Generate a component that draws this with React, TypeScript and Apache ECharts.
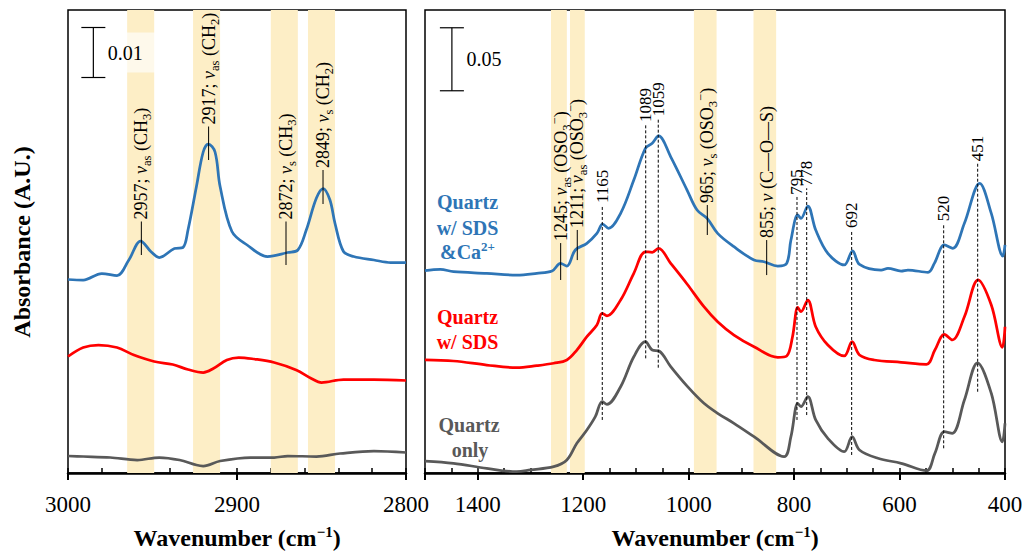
import { useEffect, useRef } from "react";
import * as echarts from "echarts";

const SERIF = '"Liberation Serif", "Times New Roman", serif';
const BLUE = "#2E75B6";
const RED = "#FF0000";
const GRAY = "#595959";
const BAND = "#FDEEC6";

// ---------- Left panel: 3000–2800 cm-1 (values in mA.U.) ----------
const leftBlueX = [3000, 2991, 2980, 2971, 2964, 2957, 2951, 2946, 2937, 2932, 2929, 2924, 2920, 2917, 2913, 2910, 2903, 2894, 2882, 2870, 2864, 2859, 2853, 2849, 2845, 2842, 2837, 2831, 2819, 2809, 2800];
const leftBlueY = [38.7, 38.6, 39.9, 39.5, 42.6, 46.4, 44.3, 43.1, 44.9, 45.1, 48.6, 57.3, 64.2, 65.8, 64.2, 57.3, 48.3, 45.6, 43.3, 44.1, 44.6, 48.6, 55.0, 56.9, 54.6, 49.9, 44.3, 43.3, 42.6, 42.1, 42.1];
const leftRedX = [3000, 2991, 2982, 2971, 2961, 2949, 2938, 2929, 2920, 2914, 2906, 2899, 2890, 2878, 2865, 2856, 2850, 2837, 2819, 2800];
const leftRedY = [23.3, 25.1, 25.6, 25.1, 23.6, 22.3, 21.7, 20.7, 20.1, 20.9, 22.6, 23.1, 22.8, 22.1, 20.6, 18.9, 18.1, 18.7, 18.7, 18.5];
const leftGrayX = [3000, 2991, 2975, 2959, 2946, 2934, 2924, 2920, 2910, 2892, 2878, 2870, 2853, 2839, 2819, 2800];
const leftGrayY = [3.4, 3.3, 3.1, 2.6, 3.1, 2.6, 1.6, 1.4, 2.4, 3.1, 3.1, 3.4, 3.3, 3.9, 4.4, 4.1];

const leftBandFrom = [2965, 2926, 2880, 2858];
const leftBandTo = [2949, 2910, 2864, 2842];

const leftMarkX = [2956.6, 2916.8, 2871, 2849.1];
const leftMarkLow = [43.6, 62.6, 41.6, 53.8];
const leftMarkHigh = [50.3, 69.3, 50.3, 60.6];
const leftMarkLabels = [
  "{n|2957; }{i|ν}{s|as}{n| (CH}{s|3}{n|)}",
  "{n|2917; }{i|ν}{s|as}{n| (CH}{s|2}{n|)}",
  "{n|2872; }{i|ν}{s|s}{n| (CH}{s|3}{n|)}",
  "{n|2849; }{i|ν}{s|s}{n| (CH}{s|2}{n|)}",
];

// ---------- Right panel: 1500–400 cm-1 (values in mA.U.) ----------
const rightBlueX = [1500, 1471, 1446, 1383, 1326, 1288, 1259, 1243, 1231, 1215, 1193, 1174, 1163, 1152, 1129, 1104, 1082, 1069, 1057, 1034, 1003, 984, 965, 945, 914, 876, 857, 831, 814, 806, 793, 787, 774, 759, 736, 705, 689, 676, 635, 622, 597, 584, 546, 534, 515, 499, 477, 448, 426, 404, 400];
const rightBlueY = [160.6, 161.7, 159.8, 158.5, 157.1, 158.5, 160.3, 166.4, 164.3, 177.0, 182.3, 190.2, 197.6, 194.2, 206.1, 232.5, 257.7, 261.7, 267.5, 251.0, 224.6, 208.7, 202.1, 190.2, 179.6, 169.0, 167.7, 164.3, 166.4, 184.9, 204.8, 202.1, 211.9, 192.9, 174.4, 165.1, 176.4, 165.6, 161.1, 162.5, 160.3, 161.1, 159.3, 166.4, 181.0, 178.3, 198.2, 229.9, 206.1, 172.2, 181.0];
const rightRedX = [1500, 1446, 1383, 1326, 1288, 1256, 1231, 1212, 1193, 1174, 1164, 1155, 1129, 1104, 1082, 1069, 1057, 1034, 1003, 971, 945, 914, 876, 831, 814, 803, 793, 787, 774, 759, 736, 705, 690, 676, 648, 597, 549, 533, 515, 500, 477, 451, 426, 405, 400];
const rightRedY = [89.7, 88.9, 85.7, 83.6, 85.2, 87.1, 89.7, 97.6, 108.2, 117.5, 126.7, 124.8, 137.3, 158.5, 175.6, 175.2, 178.3, 166.4, 150.0, 132.0, 120.1, 109.5, 100.2, 91.8, 92.9, 108.2, 131.5, 128.0, 137.3, 116.1, 101.6, 92.9, 104.2, 93.7, 89.7, 87.9, 86.3, 97.6, 110.1, 105.6, 124.0, 153.2, 133.3, 99.8, 116.1];
const rightGrayX = [1500, 1446, 1383, 1326, 1300, 1256, 1231, 1212, 1193, 1177, 1164, 1155, 1129, 1104, 1082, 1069, 1056, 1034, 1002, 971, 945, 914, 876, 819, 806, 793, 787, 774, 759, 736, 705, 690, 676, 641, 597, 549, 533, 515, 500, 477, 452, 426, 405, 400];
const rightGrayY = [9.5, 7.7, 3.7, 1.0, 2.4, 5.0, 10.3, 23.6, 34.1, 44.7, 56.6, 54.5, 68.5, 92.3, 104.2, 97.6, 96.8, 84.4, 68.5, 55.3, 47.4, 39.4, 28.8, 12.9, 28.8, 55.3, 52.6, 60.6, 42.1, 27.5, 16.9, 28.8, 18.3, 11.7, 7.7, 1.8, 15.6, 32.8, 31.5, 57.9, 87.5, 63.3, 24.8, 39.4];

const rightBandFrom = [1261, 1225, 990, 877];
const rightBandTo = [1231, 1197, 947, 834];

const rightSolidX = [1242.7, 1211.2, 964.6, 852];
const rightSolidLow = [153.2, 169.0, 188.9, 157.1];
const rightSolidHigh = [182.5, 192.9, 212.7, 184.9];
const rightSolidLabels = [
  "{n|1245; }{i|ν}{s|as}{n| (OSO}{s|3}{p|−}{n|)}",
  "{n|1211; }{i|ν}{s|as}{n| (OSO}{s|3}{p|−}{n|)}",
  "{n|965; }{i|ν}{s|s}{n| (OSO}{s|3}{p|−}{n|)}",
  "{n|855; }{i|ν}{n| (C—O—S)}",
];

const rightDashX = [1163.8, 1081.4, 1057.6, 794.5, 776.1, 690.8, 516.3, 451.8];
const rightDashLow = [42.1, 91.0, 83.6, 42.1, 46.0, 14.3, 19.6, 64.5];
const rightDashHigh = [212.7, 277.0, 281.5, 219.3, 226.0, 192.9, 198.2, 245.8];
const rightDashLabels = ["{d|1165}", "{d|1089}", "{d|1059}", "{d|795}", "{d|778}", "{d|692}", "{d|520}", "{d|451}"];

// scale bars: [x, yLow, yHigh]
const leftScaleBar = [2985, 79.1, 89.1];
const rightScaleBar = [1449, 303.4, 353.4];
const leftScaleLabel = "0.01";
const rightScaleLabel = "0.05";

const xTicksLeft = { min: 2800, max: 3000, major: 100, minor: 20 };
const xTicksRight = { min: 400, max: 1500, major: 200, minor: 50 };

const zip = (xs: number[], ys: number[]) => xs.map((x, i) => [x, ys[i]]);

const RICH: any = {
  n: { fontSize: 18, fontFamily: SERIF, lineHeight: 25, fill: "#000" },
  d: { fontSize: 17, fontFamily: SERIF, lineHeight: 22, fill: "#000" },
  i: { fontSize: 18, fontFamily: SERIF, fontStyle: "italic", lineHeight: 25, fill: "#000" },
  s: { fontSize: 12.5, fontFamily: SERIF, lineHeight: 12.5, verticalAlign: "bottom", fill: "#000" },
  p: { fontSize: 12.5, fontFamily: SERIF, lineHeight: 12.5, verticalAlign: "top", fill: "#000" },
};

function lineSeries(xIdx: number, yIdx: number, xs: number[], ys: number[], color: string) {
  return {
    type: "line",
    xAxisIndex: xIdx,
    yAxisIndex: yIdx,
    data: zip(xs, ys),
    showSymbol: false,
    smooth: 0.35,
    z: 3,
    lineStyle: { color, width: 2.75 },
    itemStyle: { color },
    silent: true,
  };
}

function bandSeries(xIdx: number, yIdx: number, from: number[], to: number[]) {
  return {
    type: "custom",
    xAxisIndex: xIdx,
    yAxisIndex: yIdx,
    z: 1,
    silent: true,
    data: from.map((f, i) => [f, to[i]]),
    encode: { x: [0, 1] },
    renderItem: (params: any, api: any) => {
      const a = api.coord([api.value(0), 0]);
      const b = api.coord([api.value(1), 0]);
      const cs = params.coordSys;
      return {
        type: "rect",
        shape: { x: Math.min(a[0], b[0]), y: cs.y, width: Math.abs(b[0] - a[0]), height: cs.height },
        style: { fill: BAND },
      };
    },
  };
}

function markSeries(xIdx: number, yIdx: number, xs: number[], lows: number[], highs: number[], labels: string[], dashed: boolean) {
  return {
    type: "custom",
    xAxisIndex: xIdx,
    yAxisIndex: yIdx,
    z: 5,
    silent: true,
    clip: false,
    data: xs.map((x, i) => [x, lows[i], highs[i], i]),
    encode: { x: 0, y: [1, 2] },
    renderItem: (_params: any, api: any) => {
      const x = api.value(0);
      const i = api.value(3);
      const p0 = api.coord([x, api.value(1)]);
      const p1 = api.coord([x, api.value(2)]);
      return {
        type: "group",
        children: [
          {
            type: "line",
            shape: { x1: p0[0], y1: p0[1], x2: p1[0], y2: p1[1] },
            style: { stroke: "#000", lineWidth: 1, lineDash: dashed ? [3, 2] : null },
          },
          {
            type: "text",
            x: p1[0],
            y: p1[1] - 2,
            rotation: Math.PI / 2,
            style: {
              text: labels[i],
              rich: RICH,
              fill: "#000",
              font: `17px ${SERIF}`,
              align: "left",
              verticalAlign: "middle",
            },
          },
        ],
      };
    },
  };
}

function scaleSeries(xIdx: number, yIdx: number, bar: number[], label: string) {
  return {
    type: "custom",
    xAxisIndex: xIdx,
    yAxisIndex: yIdx,
    z: 4,
    silent: true,
    clip: false,
    data: [bar],
    encode: { x: 0, y: [1, 2] },
    renderItem: (_params: any, api: any) => {
      const x = api.value(0);
      const p0 = api.coord([x, api.value(1)]);
      const p1 = api.coord([x, api.value(2)]);
      const cy = (p0[1] + p1[1]) / 2;
      const ls = { stroke: "#000", lineWidth: 1.2 };
      return {
        type: "group",
        children: [
          { type: "rect", shape: { x: p0[0] - 5, y: cy - 20, width: 72, height: 40 }, style: { fill: "rgba(255,255,255,0.65)" } },
          { type: "line", shape: { x1: p0[0], y1: p0[1], x2: p1[0], y2: p1[1] }, style: ls },
          { type: "line", shape: { x1: p0[0] - 12, y1: p0[1], x2: p0[0] + 12, y2: p0[1] }, style: ls },
          { type: "line", shape: { x1: p1[0] - 12, y1: p1[1], x2: p1[0] + 12, y2: p1[1] }, style: ls },
          {
            type: "text",
            x: p0[0] + 14.5,
            y: cy,
            style: { text: label, fill: "#000", font: `20px ${SERIF}`, align: "left", verticalAlign: "middle" },
          },
        ],
      };
    },
  };
}

function mainXAxis(grid: number, t: any) {
  return {
    type: "value",
    gridIndex: grid,
    position: "bottom",
    inverse: true,
    min: t.min,
    max: t.max,
    interval: t.major,
    axisLine: { show: true, onZero: false, lineStyle: { color: "#000", width: 2.5 } },
    axisTick: { show: true, inside: false, length: 7, lineStyle: { color: "#000", width: 2 } },
    axisLabel: {
      show: true,
      color: "#000",
      fontSize: 23,
      fontFamily: SERIF,
      margin: 20,
      showMinLabel: true,
      showMaxLabel: true,
      hideOverlap: false,
      formatter: (v: number) => (v % t.major === 0 ? String(v) : ""),
    },
    splitLine: { show: false },
  };
}

function minorXAxis(grid: number, t: any) {
  return {
    type: "value",
    gridIndex: grid,
    position: "bottom",
    inverse: true,
    min: t.min,
    max: t.max,
    interval: t.minor,
    axisLine: { show: false, onZero: false },
    axisTick: { show: true, inside: true, length: 5, lineStyle: { color: "#000", width: 1.5 } },
    axisLabel: { show: false },
    splitLine: { show: false },
  };
}

export default function App() {
  const ref = useRef<HTMLDivElement>(null);

  useEffect(() => {
    if (!ref.current) return;
    const chart = echarts.init(ref.current, null, { renderer: "svg" });
    const gridCommon = { top: 10, height: 463, show: true, borderColor: "#000", borderWidth: 1.5, containLabel: false, outerBoundsMode: "none" };

    const titleRich = {
      b: { fontSize: 24, fontWeight: "bold", fontFamily: SERIF, lineHeight: 28, fill: "#000" },
      sup: { fontSize: 15, fontWeight: "bold", fontFamily: SERIF, lineHeight: 14, verticalAlign: "top", fill: "#000" },
    };
    const legendText = (x: number, y: number, text: string, color: string) => ({
      type: "text",
      x,
      y,
      z: 10,
      style: {
        text,
        fill: color,
        font: `bold 20px ${SERIF}`,
        align: "center",
        verticalAlign: "middle",
        rich: {
          b: { fontSize: 20, fontWeight: "bold", fontFamily: SERIF, fill: color, lineHeight: 24 },
          p: { fontSize: 13, fontWeight: "bold", fontFamily: SERIF, fill: color, lineHeight: 12, verticalAlign: "top" },
        },
      },
    });

    chart.setOption({
      animation: false,
      grid: [
        { ...gridCommon, left: 68, width: 338 },
        { ...gridCommon, left: 425, width: 580 },
      ],
      xAxis: [mainXAxis(0, xTicksLeft), mainXAxis(1, xTicksRight), minorXAxis(0, xTicksLeft), minorXAxis(1, xTicksRight)],
      yAxis: [
        { type: "value", gridIndex: 0, min: 0, max: 92.6, show: false },
        { type: "value", gridIndex: 1, min: 0, max: 367.5, show: false },
      ],
      series: [
        bandSeries(0, 0, leftBandFrom, leftBandTo),
        bandSeries(1, 1, rightBandFrom, rightBandTo),
        lineSeries(0, 0, leftBlueX, leftBlueY, BLUE),
        lineSeries(0, 0, leftRedX, leftRedY, RED),
        lineSeries(0, 0, leftGrayX, leftGrayY, GRAY),
        lineSeries(1, 1, rightBlueX, rightBlueY, BLUE),
        lineSeries(1, 1, rightRedX, rightRedY, RED),
        lineSeries(1, 1, rightGrayX, rightGrayY, GRAY),
        markSeries(0, 0, leftMarkX, leftMarkLow, leftMarkHigh, leftMarkLabels, false),
        markSeries(1, 1, rightSolidX, rightSolidLow, rightSolidHigh, rightSolidLabels, false),
        markSeries(1, 1, rightDashX, rightDashLow, rightDashHigh, rightDashLabels, true),
        scaleSeries(0, 0, leftScaleBar, leftScaleLabel),
        scaleSeries(1, 1, rightScaleBar, rightScaleLabel),
      ],
      graphic: [
        {
          type: "text",
          x: 22,
          y: 242,
          rotation: Math.PI / 2,
          style: { text: "Absorbance (A.U.)", fill: "#000", font: `bold 24px ${SERIF}`, align: "center", verticalAlign: "middle" },
        },
        {
          type: "text",
          x: 237,
          y: 538,
          style: { text: "{b|Wavenumber (cm}{sup|−1}{b|)}", rich: titleRich, fill: "#000", align: "center", verticalAlign: "middle" },
        },
        {
          type: "text",
          x: 715,
          y: 538,
          style: { text: "{b|Wavenumber (cm}{sup|−1}{b|)}", rich: titleRich, fill: "#000", align: "center", verticalAlign: "middle" },
        },
        legendText(467.5, 201.7, "{b|Quartz}", BLUE),
        legendText(467.5, 227.7, "{b|w/ SDS}", BLUE),
        legendText(467.5, 251.7, "{b|&Ca}{p|2+}", BLUE),
        legendText(467.5, 316.7, "{b|Quartz}", RED),
        legendText(467.5, 341.7, "{b|w/ SDS}", RED),
        legendText(469, 425, "{b|Quartz}", GRAY),
        legendText(470, 450, "{b|only}", GRAY),
      ],
    });

    return () => chart.dispose();
  }, []);

  return <div ref={ref} style={{ position: "absolute", left: 0, top: 0, width: 1027, height: 554 }} />;
}
